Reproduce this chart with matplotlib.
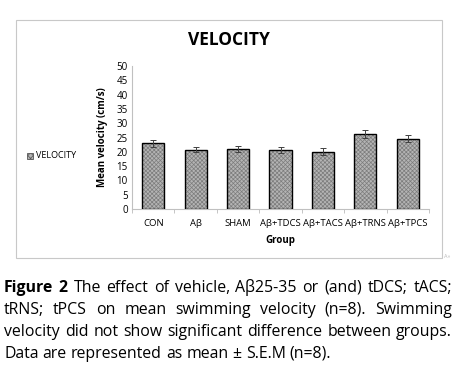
import matplotlib
matplotlib.use('Agg')
import matplotlib.pyplot as plt
from matplotlib.patches import Rectangle

plt.rcParams['font.family'] = ['Open Sans', 'DejaVu Sans']
plt.rcParams['hatch.linewidth'] = 0.5

# data
groups = ['CON', 'Aβ', 'SHAM', 'Aβ+TDCS', 'Aβ+TACS', 'Aβ+TRNS', 'Aβ+TPCS']
velocity = [23.0, 20.8, 21.1, 20.7, 20.1, 26.1, 24.6]
sem = [1.2, 1.0, 1.1, 1.0, 1.1, 1.4, 1.1]
yticks = list(range(0, 55, 5))

caption_lines = [
    [('Figure 2', 'bold'), ('The effect of vehicle, Aβ25-35 or (and) tDCS; tACS;', 'normal')],
    [('tRNS; tPCS on mean swimming velocity (n=8). Swimming', 'normal')],
    [('velocity did not show significant difference between groups.', 'normal')],
    [('Data are represented as mean ± S.E.M (n=8).', 'normal')],
]

W, H = 457, 375
fig = plt.figure(figsize=(W / 100, H / 100), dpi=100)

# chart area border
fig.patches.append(Rectangle((16 / W, 1 - 258 / H), 426 / W, 238 / H,
                             transform=fig.transFigure, fill=False,
                             edgecolor='#c8c8c8', linewidth=0.8))

ax = fig.add_axes([132 / W, 1 - 209 / H, 297 / W, 143 / H])
x = range(len(groups))
# hatched fill, then black outline on top
ax.bar(x, velocity, width=0.52, color='#b4b4b4', hatch='xxxxxxxx',
       edgecolor='#7c7c7c', linewidth=0, zorder=2)
ax.bar(x, velocity, width=0.52, fill=False, edgecolor='black',
       linewidth=1.0, zorder=3)
ax.errorbar(x, velocity, yerr=sem, fmt='none', ecolor='#404040',
            elinewidth=0.7, capsize=2, capthick=0.7, zorder=4)

ax.set_ylim(0, 50)
ax.set_xlim(-0.5, len(groups) - 0.5)
ax.set_yticks(yticks)
ax.tick_params(axis='y', labelsize=7, length=0, pad=3)
ax.set_xticks(list(x))
ax.set_xticklabels(groups, fontsize=6.8)
ax.tick_params(axis='x', length=0, pad=7)
ax.set_xticks([i + 0.5 for i in range(-1, len(groups))], minor=True)
ax.tick_params(axis='x', which='minor', length=3, color='#bbbbbb', direction='out')
for s in ['top', 'right']:
    ax.spines[s].set_visible(False)
ax.spines['left'].set_color('#c0c0c0')
ax.spines['bottom'].set_color('#c0c0c0')
ax.spines['left'].set_linewidth(0.8)
ax.spines['bottom'].set_linewidth(0.8)
ax.set_ylabel('Mean velocity (cm/s)', fontsize=7, fontweight='bold', labelpad=6)
ax.set_xlabel('Group', fontsize=7, fontweight='bold', labelpad=5)

fig.text(229 / W, 1 - 40 / H, 'VELOCITY', fontsize=12.5, fontweight='bold',
         ha='center', va='center')

# legend entry
fig.patches.append(Rectangle((27 / W, 1 - 159 / H), 6 / W, 6 / H,
                             transform=fig.transFigure, facecolor='#b4b4b4',
                             hatch='xxxxxx', edgecolor='#555555', linewidth=0.6))
fig.text(36 / W, 1 - 156 / H, 'VELOCITY', fontsize=6.5, ha='left', va='center')

fig.text(444 / W, 1 - 256 / H, 'A»', fontsize=4, color='#bbbbbb', ha='left', va='center')

# justified caption
fig.canvas.draw()
renderer = fig.canvas.get_renderer()
left, right = 4, 452
fs = 11.4
for li, segs in enumerate(caption_lines):
    y = 1 - (288 + 22 * li) / H
    words = []
    for txt, wt in segs:
        for w in txt.split(' '):
            words.append((w, wt))
    arts = [fig.text(0, y, w, fontsize=fs, fontweight=wt, ha='left', va='center')
            for w, wt in words]
    widths = [a.get_window_extent(renderer).width for a in arts]
    if li < len(caption_lines) - 1:
        gap = (right - left - sum(widths)) / (len(words) - 1)
    else:
        gap = fs * 100 / 72 * 0.26
    pos = left
    for a, w in zip(arts, widths):
        a.set_x(pos / W)
        pos += w + gap

fig.savefig('out.png', dpi=100)
